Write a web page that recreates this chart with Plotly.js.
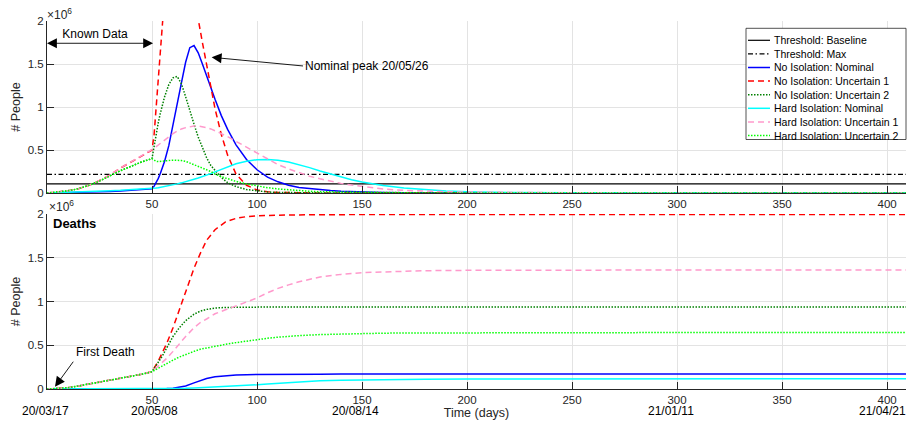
<!DOCTYPE html>
<html><head><meta charset="utf-8">
<script src="https://cdn.plot.ly/plotly-3.0.1.min.js"></script>
<style>html,body{margin:0;padding:0;background:#fff}#chart{width:907px;height:429px}</style>
</head><body><div id="chart"></div>
<script>
// ---------- data (values in millions of people) ----------
const seriesNames = ['Threshold: Baseline','Threshold: Max','No Isolation: Nominal','No Isolation: Uncertain 1','No Isolation: Uncertain 2','Hard Isolation: Nominal','Hard Isolation: Uncertain 1','Hard Isolation: Uncertain 2'];
const thresholdBaseline = 0.105;
const thresholdMax = 0.217;
const xRangeEnd = 409;

// top panel: active cases
const tTop = [0,5,10,15,20,25,30,35,40,45,50,51,52,53,54,55,56,58,60,62,64,66,68,70,72,74,76,78,80,83,86,90,95,100,105,110,115,120,125,130,135,140,145,150,160,170,180,190,200,220,250,300,350,409];
const noIsoNominal = [0,0.002,0.004,0.007,0.01,0.014,0.018,0.024,0.03,0.039,0.05,0.08,0.12,0.17,0.23,0.3,0.37,0.55,0.78,1.02,1.28,1.52,1.69,1.715,1.63,1.5,1.36,1.22,1.09,0.9,0.74,0.56,0.39,0.27,0.185,0.13,0.09,0.065,0.05,0.038,0.028,0.02,0.015,0.011,0.006,0.0035,0.002,0.001,0.0005,0,0,0,0,0];
const noIsoUnc1 = [0,0.01,0.025,0.05,0.09,0.145,0.21,0.29,0.36,0.43,0.5,0.68,1.0,1.38,1.72,2.02,2.3,2.75,3.05,3.2,3.2,3.0,2.7,2.35,2.02,1.75,1.48,1.22,0.98,0.68,0.44,0.22,0.09,0.035,0.015,0.007,0.003,0.0015,0.001,0,0,0,0,0,0,0,0,0,0,0,0,0,0,0];
const noIsoUnc2 = [0,0.01,0.025,0.05,0.09,0.14,0.2,0.26,0.31,0.36,0.4,0.55,0.7,0.82,0.93,1.03,1.12,1.26,1.34,1.355,1.27,1.12,0.95,0.8,0.65,0.52,0.41,0.32,0.26,0.18,0.12,0.075,0.04,0.022,0.012,0.007,0.004,0.002,0.001,0,0,0,0,0,0,0,0,0,0,0,0,0,0,0];
const hardIsoNominal = [0,0.003,0.007,0.011,0.016,0.021,0.026,0.031,0.037,0.043,0.05,0.054,0.058,0.062,0.066,0.07,0.075,0.085,0.095,0.106,0.118,0.13,0.145,0.16,0.175,0.19,0.205,0.225,0.245,0.275,0.305,0.34,0.37,0.387,0.39,0.381,0.36,0.33,0.295,0.255,0.22,0.185,0.155,0.128,0.086,0.057,0.037,0.024,0.015,0.006,0.002,0.0003,0,0];
const hardIsoUnc1 = [0,0.01,0.025,0.05,0.09,0.145,0.21,0.29,0.36,0.43,0.5,0.52,0.54,0.56,0.58,0.6,0.62,0.66,0.69,0.72,0.745,0.76,0.772,0.778,0.778,0.772,0.76,0.745,0.725,0.69,0.655,0.6,0.53,0.46,0.39,0.33,0.28,0.235,0.195,0.165,0.135,0.112,0.092,0.076,0.046,0.031,0.021,0.015,0.011,0.005,0.002,0,0,0];
const hardIsoUnc2 = [0,0.01,0.025,0.05,0.09,0.14,0.2,0.26,0.31,0.36,0.4,0.38,0.368,0.365,0.366,0.368,0.372,0.378,0.382,0.383,0.378,0.368,0.35,0.33,0.31,0.29,0.27,0.25,0.22,0.19,0.165,0.135,0.105,0.08,0.062,0.047,0.036,0.027,0.02,0.015,0.013,0.01,0.008,0.006,0.004,0.002,0.001,0.0005,0,0,0,0,0,0];

// bottom panel: cumulative deaths
const tBot = [0,5,10,15,20,25,30,35,40,45,50,53,55,57,60,63,66,70,73,76,80,85,90,95,100,105,110,115,120,130,140,150,160,170,180,200,220,250,300,350,409];
const dNoIsoNominal = [0,0,0,0,0,0,0,0,0.001,0.0015,0.002,0.003,0.004,0.006,0.01,0.02,0.035,0.07,0.098,0.12,0.14,0.153,0.16,0.164,0.166,0.167,0.168,0.169,0.169,0.17,0.171,0.171,0.171,0.171,0.171,0.171,0.171,0.171,0.171,0.171,0.171];
const dNoIsoUnc1 = [0,0.004,0.015,0.035,0.057,0.08,0.1,0.12,0.143,0.168,0.198,0.32,0.42,0.52,0.7,0.9,1.1,1.38,1.55,1.7,1.82,1.91,1.95,1.97,1.98,1.985,1.99,1.99,1.99,1.993,1.995,1.995,1.995,1.995,1.995,1.995,1.995,1.995,1.995,1.995,1.995];
const dNoIsoUnc2 = [0,0.004,0.015,0.035,0.057,0.08,0.1,0.12,0.143,0.168,0.198,0.3,0.38,0.47,0.6,0.7,0.78,0.855,0.89,0.91,0.925,0.932,0.935,0.937,0.937,0.937,0.937,0.937,0.937,0.937,0.937,0.937,0.937,0.937,0.937,0.937,0.937,0.937,0.937,0.937,0.937];
const dHardIsoNominal = [0,0,0,0,0,0,0,0,0.001,0.0015,0.002,0.003,0.0035,0.004,0.005,0.006,0.008,0.011,0.014,0.017,0.022,0.028,0.035,0.041,0.048,0.057,0.066,0.074,0.082,0.093,0.1,0.105,0.108,0.11,0.112,0.114,0.115,0.115,0.116,0.116,0.116];
const dHardIsoUnc1 = [0,0.004,0.015,0.035,0.057,0.08,0.1,0.12,0.143,0.168,0.198,0.26,0.3,0.35,0.43,0.52,0.6,0.7,0.76,0.8,0.86,0.905,0.95,0.995,1.04,1.1,1.15,1.19,1.225,1.28,1.31,1.33,1.34,1.348,1.352,1.356,1.358,1.36,1.36,1.36,1.36];
const dHardIsoUnc2 = [0,0.004,0.015,0.035,0.057,0.08,0.1,0.12,0.143,0.168,0.198,0.24,0.265,0.29,0.33,0.365,0.395,0.43,0.455,0.47,0.49,0.51,0.53,0.548,0.565,0.58,0.592,0.602,0.61,0.622,0.63,0.635,0.638,0.64,0.641,0.643,0.645,0.645,0.645,0.645,0.645];

const xTickVals = [50,100,150,200,250,300,350,400];
const xTickText = ['50','100','150','200','250','300','350','400'];
const yTickVals = [0,0.5,1,1.5,2];
const yTickText = ['0','0.5','1','1.5','2'];
const dateLabels = ['20/03/17','20/05/08','20/08/14','21/01/11','21/04/21'];
const datePos = [0,51,146.7,296.9,398];
const yTitle = '# People';
const xTitle = 'Time (days)';

// ---------- styles ----------
const W = 907, H = 429;
const FONT = 'Liberation Sans, Arial, Helvetica, sans-serif';
const INK = '#262626';
const styles = [
  {color:'#000000', dash:'solid', width:1.2},
  {color:'#000000', dash:'5px,2.5px,1.5px,2.5px', width:1.2},
  {color:'#0000ff', dash:'solid', width:1.5},
  {color:'#ff0000', dash:'6px,4px', width:1.5},
  {color:'#008000', dash:'1.5px,1.5px', width:1.5},
  {color:'#00ffff', dash:'solid', width:1.5},
  {color:'#ff99cc', dash:'6px,4px', width:1.5},
  {color:'#00ff00', dash:'1.5px,1.5px', width:1.5}
];
const px2x = p => p / W;
const px2y = p => (H - p) / H;

function line(x, y, i, xa, ya) {
  return {x:x, y:y, type:'scatter', mode:'lines', name:seriesNames[i], xaxis:xa, yaxis:ya,
          line:{color:styles[i].color, dash:styles[i].dash, width:styles[i].width},
          showlegend:false, hoverinfo:'skip'};
}

const traces = [
  line([0,xRangeEnd],[thresholdBaseline,thresholdBaseline],0,'x','y'),
  line([0,xRangeEnd],[thresholdMax,thresholdMax],1,'x','y'),
  line(tTop, noIsoNominal, 2,'x','y'),
  line(tTop, noIsoUnc1, 3,'x','y'),
  line(tTop, noIsoUnc2, 4,'x','y'),
  line(tTop, hardIsoNominal, 5,'x','y'),
  line(tTop, hardIsoUnc1, 6,'x','y'),
  line(tTop, hardIsoUnc2, 7,'x','y'),
  line(tBot, dNoIsoNominal, 2,'x2','y2'),
  line(tBot, dNoIsoUnc1, 3,'x2','y2'),
  line(tBot, dNoIsoUnc2, 4,'x2','y2'),
  line(tBot, dHardIsoNominal, 5,'x2','y2'),
  line(tBot, dHardIsoUnc1, 6,'x2','y2'),
  line(tBot, dHardIsoUnc2, 7,'x2','y2')
];

const xDom = [px2x(47), px2x(906)];
function xAxis(anchor, title) {
  const a = {domain:xDom, range:[0,xRangeEnd], anchor:anchor, tickvals:xTickVals, ticktext:xTickText,
          ticks:'inside', ticklen:7, tickcolor:INK, tickwidth:1, showline:true, linecolor:INK, linewidth:1,
          showgrid:true, gridcolor:'#e3e3e3', gridwidth:1, zeroline:false,
          tickfont:{family:FONT, size:11.5, color:INK}, fixedrange:true};
  if (title) a.title = {text:title, standoff:0, font:{family:FONT, size:12.5, color:INK}};
  return a;
}
function yAxis(dom, anchor) {
  return {domain:dom, range:[0,2], anchor:anchor, tickvals:yTickVals, ticktext:yTickText,
          ticks:'inside', ticklen:7, tickcolor:INK, tickwidth:1, showline:true, linecolor:INK, linewidth:1,
          showgrid:true, gridcolor:'#e3e3e3', gridwidth:1, zeroline:false,
          title:{text:yTitle, standoff:4, font:{family:FONT, size:12.5, color:INK}},
          tickfont:{family:FONT, size:11.5, color:INK}, fixedrange:true};
}

const ann = [];
const txt = (o) => Object.assign({showarrow:false, font:{family:FONT, size:12, color:'#000'}}, o);
const arrowStyle = {showarrow:true, arrowhead:2, arrowsize:2.2, arrowwidth:0.9, arrowcolor:'#000', standoff:0, startstandoff:0};
// exponent labels
ann.push(txt({xref:'paper', yref:'paper', x:px2x(45), y:px2y(14), xanchor:'left', yanchor:'middle', text:'×10<sup>6</sup>', font:{family:FONT, size:12, color:INK}}));
ann.push(txt({xref:'paper', yref:'paper', x:px2x(47), y:px2y(206), xanchor:'left', yanchor:'middle', text:'×10<sup>6</sup>', font:{family:FONT, size:12, color:INK}}));
// date labels
dateLabels.forEach((d,i) => ann.push(txt({xref:'x2', yref:'paper', x:datePos[i], xshift:(i===0?-2:0), y:px2y(411), xanchor:'center', yanchor:'middle', text:d, font:{family:FONT, size:12, color:'#000'}})));
// Known Data: text sits above a double arrow spanning the known-data window
ann.push(Object.assign({}, arrowStyle, {xref:'x', yref:'y', axref:'x', ayref:'y', x:50.5, y:1.741, ax:0, ay:1.741,
  xanchor:'left', yanchor:'bottom', arrowside:'end+start', startarrowhead:2, startarrowsize:2.2,
  text:'&nbsp;&nbsp;&nbsp;&nbsp;Known Data', font:{family:FONT, size:12, color:'#000'}}));
// Nominal peak
ann.push(Object.assign({}, arrowStyle, {xref:'x', yref:'y', axref:'x', ayref:'y', x:78.4, y:1.578, ax:121.9, ay:1.477,
  xanchor:'left', yanchor:'middle', text:'Nominal peak 20/05/26', font:{family:FONT, size:12, color:'#000'}}));
// Deaths
ann.push(txt({xref:'x2', yref:'y2', x:1.9, y:1.886, xanchor:'left', yanchor:'middle', text:'<b>Deaths</b>', font:{family:FONT, size:13, color:'#000'}}));
// First Death
ann.push(Object.assign({}, arrowStyle, {xref:'x2', yref:'y2', axref:'x2', ayref:'y2', x:3.8, y:0.026, ax:12.5, ay:0.312,
  xanchor:'left', yanchor:'bottom', borderpad:2, text:'First Death', font:{family:FONT, size:12, color:'#000'}}));

// compact legend (rows spaced like the reference)
const shapes = [];
shapes.push({type:'rect', xref:'paper', yref:'paper', x0:px2x(746), x1:px2x(906), y0:px2y(139.5), y1:px2y(28.3), fillcolor:'#ffffff', line:{color:INK, width:0.8}, layer:'above'});
seriesNames.forEach((n,i) => {
  const py = 40.3 + i*13.6;
  shapes.push({type:'line', xref:'paper', yref:'paper', x0:px2x(748), x1:px2x(770), y0:px2y(py), y1:px2y(py), line:{color:styles[i].color, dash:styles[i].dash, width:styles[i].width}, layer:'above'});
  ann.push(txt({xref:'paper', yref:'paper', x:px2x(771.5), y:px2y(py), xanchor:'left', yanchor:'middle', text:n, font:{family:FONT, size:10.5, color:'#000'}}));
});

const layout = {
  width:W, height:H, margin:{l:0, r:0, t:0, b:0, autoexpand:false},
  paper_bgcolor:'#fff', plot_bgcolor:'#fff', showlegend:false,
  xaxis:xAxis('y', null), yaxis:yAxis([px2y(193), px2y(21)], 'x'),
  xaxis2:xAxis('y2', xTitle), yaxis2:yAxis([px2y(389), px2y(214)], 'x2'),
  annotations:ann, shapes:shapes, font:{family:FONT}
};
Plotly.newPlot('chart', traces, layout, {displayModeBar:false, staticPlot:true});
</script>
</body></html>
